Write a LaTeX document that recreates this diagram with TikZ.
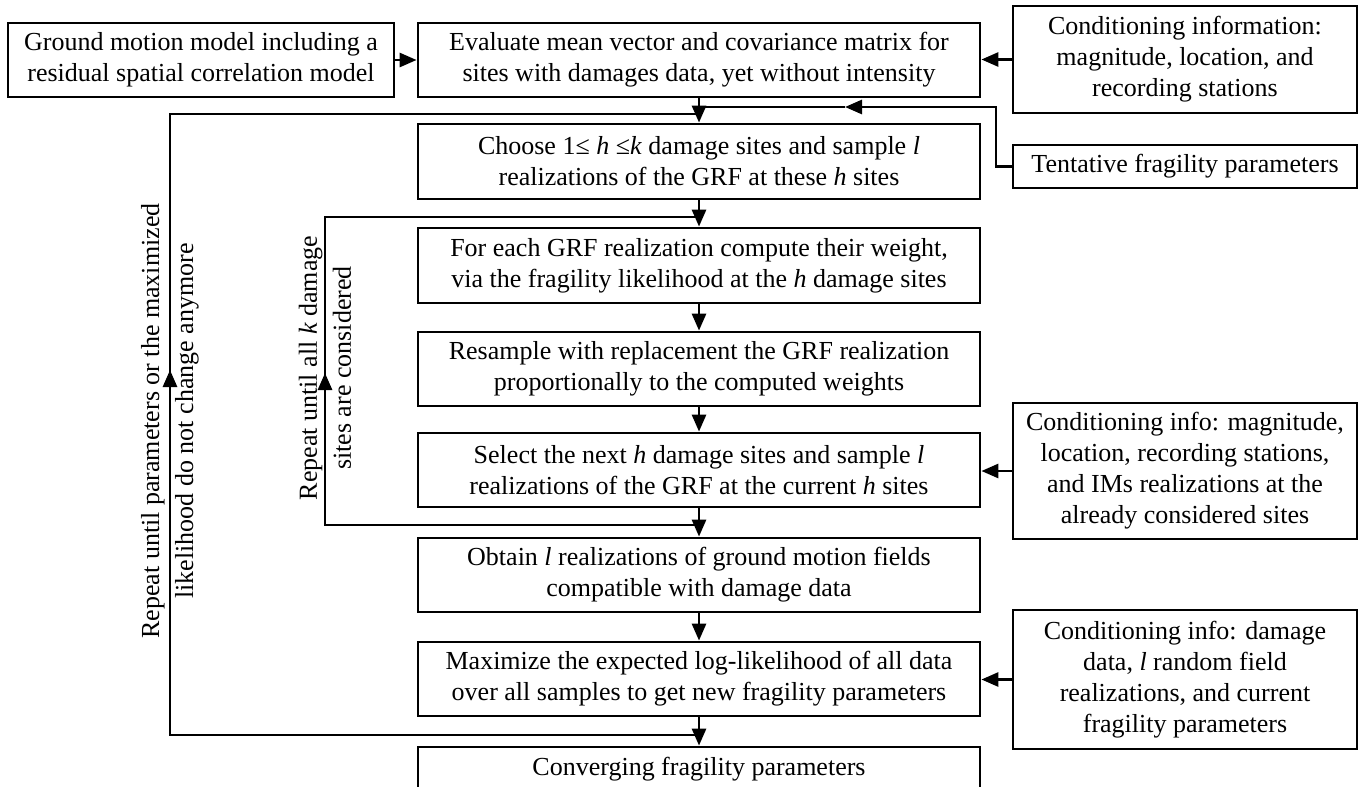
\documentclass[tikz,border=0pt]{standalone}
\usepackage{fontspec}
\setmainfont{Liberation Serif}
\usetikzlibrary{arrows.meta}
\begin{document}
\begin{tikzpicture}[x=1pt,y=-1pt,
  txt/.style={font=\fontsize{26}{31}\selectfont, align=center, inner sep=0pt},
  looplabel/.style={txt, font=\fontsize{26}{34}\selectfont, rotate=90},
  box/.style={txt, draw, line width=2.8pt},
  mainbox/.style={box, minimum width=562pt, minimum height=74pt},
  sidebox/.style={box, minimum width=344pt},
  ln/.style={line width=2.8pt},
  arr/.style={line width=2.8pt, -{Triangle[length=17pt,width=14pt]}}]
\useasboundingbox (0,0) rectangle (1360,787);
\fill[white] (0,0) rectangle (1360,787);

% main column
\node[mainbox] (ev) at (699,60) {Evaluate mean vector and covariance matrix for\\sites with damages data, yet without intensity};
\node[mainbox, minimum height=75pt] (ch) at (699,161.5) {Choose 1≤ \textit{h} ≤\textit{k} damage sites and sample \textit{l}\\realizations of the GRF at these \textit{h} sites};
\node[mainbox, minimum height=75pt] (fe) at (699,265.5) {For each GRF realization compute their weight,\\via the fragility likelihood at the \textit{h} damage sites};
\node[mainbox] (rs) at (699,369) {Resample with replacement the GRF realization\\proportionally to the computed weights};
\node[mainbox] (se) at (699,470) {Select the next \textit{h} damage sites and sample \textit{l}\\realizations of the GRF at the current \textit{h} sites};
\node[mainbox] (ob) at (699,575) {Obtain \textit{l} realizations of ground motion fields\\compatible with damage data};
\node[mainbox] (mx) at (699,679) {Maximize the expected log-likelihood of all data\\over all samples to get new fragility parameters};
\node[mainbox, minimum height=44pt] (cv) at (699,769) {Converging fragility parameters};

% side boxes
\node[box, minimum width=386pt, minimum height=74pt] (gm) at (201,60) {Ground motion model including a\\residual spatial correlation model};
\node[sidebox, minimum height=107pt] (ci) at (1185,59.5) {Conditioning information:\\magnitude, location, and\\recording stations};
\node[sidebox, minimum height=43pt] (tf) at (1185,166.5) {Tentative fragility parameters};
\node[sidebox, minimum height=136pt] (cm) at (1185,471) {Conditioning info: magnitude,\\location, recording stations,\\and IMs realizations at the\\already considered sites};
\node[sidebox, minimum height=139pt] (cd) at (1185,679.5) {Conditioning info: damage\\data, \textit{l} random field\\realizations, and current\\fragility parameters};

% main arrows
\draw[arr] (ev.south) -- (ch.north);
\draw[arr] (ch.south) -- (fe.north);
\draw[arr] (fe.south) -- (rs.north);
\draw[arr] (rs.south) -- (se.north);
\draw[arr] (se.south) -- (ob.north);
\draw[arr] (ob.south) -- (mx.north);
\draw[arr] (mx.south) -- (cv.north);

% side arrows
\draw[arr] (gm.east) -- (gm.east -| ev.west);
\draw[arr] (ci.west) -- (ci.west -| ev.east);
\draw[arr] (cm.west) -- (cm.west -| se.east);
\draw[arr] (cd.west) -- (cd.west -| mx.east);

% tentative parameters feed
\coordinate (tc) at (996,107);
\coordinate (tm) at (845,107);
\draw[arr] (tf.west) -| (tc) -- (tm);
\draw[ln] (tm) -- (tm -| ev.south);

% outer loop
\coordinate (ob1) at (170,735);
\coordinate (ot1) at (170,114);
\coordinate (om1) at (170,370);
\draw[ln] (ob1 -| mx.south) -- (ob1) -- (ot1) -- (ot1 -| ch.north);
\draw[arr] (ob1) -- (om1);

% inner loop
\coordinate (ib1) at (325,525);
\coordinate (it1) at (325,217);
\coordinate (im1) at (325,373);
\draw[ln] (ib1 -| se.south) -- (ib1) -- (it1) -- (it1 -| fe.north);
\draw[arr] (ib1) -- (im1);

% loop labels
\node[looplabel] (l1) at (170,421) {Repeat until parameters or the maximized\\likelihood do not change anymore};
\node[looplabel] (l2) at (325,368) {Repeat until all \textit{k} damage\\sites are considered};
\end{tikzpicture}
\end{document}
